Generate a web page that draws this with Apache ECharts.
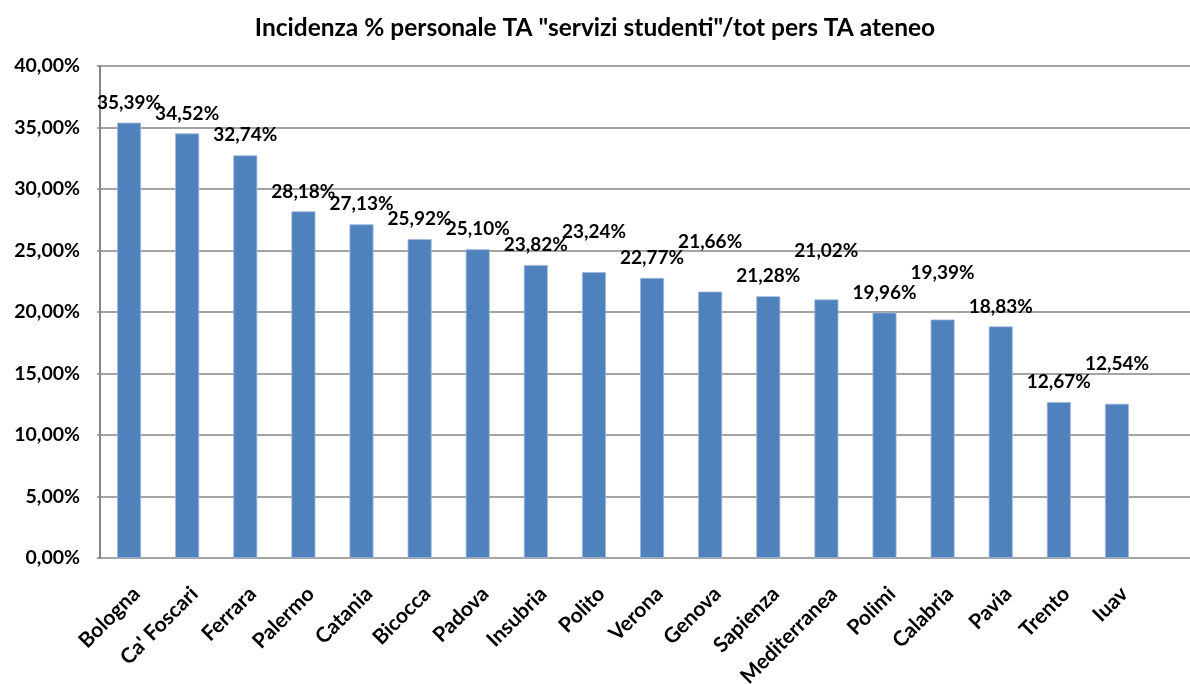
<!DOCTYPE html>
<html>
<head>
<meta charset="utf-8">
<script src="https://cdn.jsdelivr.net/npm/echarts@6/dist/echarts.min.js"></script>
<style>
  html, body { margin: 0; padding: 0; background: #fff; }
  #chart { width: 1190px; height: 684px; }
</style>
</head>
<body>
<div id="chart"></div>
<script>
const categories = ['Bologna', "Ca' Foscari", 'Ferrara', 'Palermo', 'Catania', 'Bicocca',
  'Padova', 'Insubria', 'Polito', 'Verona', 'Genova', 'Sapienza', 'Mediterranea',
  'Polimi', 'Calabria', 'Pavia', 'Trento', 'Iuav'];
const incidenza = [35.39, 34.52, 32.74, 28.18, 27.13, 25.92, 25.10, 23.82, 23.24,
  22.77, 21.66, 21.28, 21.02, 19.96, 19.39, 18.83, 12.67, 12.54];
const yTicks = [0, 5, 10, 15, 20, 25, 30, 35, 40];
// extra lift for labels that Excel pushed higher
const labelLift = [0, 0, 0, 0, 0, 0, 0, 0, 20, 0, 30, 0, 29, 0, 27, 0, 0, 20];

const FONT = 'Lato';
const fmt = (v) => v.toFixed(2).replace('.', ',') + '%';

const chart = echarts.init(document.getElementById('chart'));

const plotTop = 66;
const plotBottom = 684 - 558;

chart.setOption({
  animation: false,
  backgroundColor: '#fff',
  textStyle: { fontFamily: FONT },
  title: {
    text: 'Incidenza % personale TA "servizi studenti"/tot pers TA ateneo',
    left: 'center',
    top: 11,
    textStyle: { fontFamily: FONT, fontWeight: 'bold', fontSize: 24.5, color: '#000' }
  },
  grid: [
    { left: 100, right: 0, top: plotTop, bottom: plotBottom, outerBoundsMode: 'none', containLabel: false },
    { left: 100, right: 44, top: plotTop, bottom: plotBottom, outerBoundsMode: 'none', containLabel: false }
  ],
  xAxis: [
    {
      gridIndex: 0, type: 'value', min: 0, max: 1,
      axisLine: { show: false }, axisTick: { show: false },
      axisLabel: { show: false }, splitLine: { show: false }
    },
    {
      gridIndex: 1, type: 'category', data: categories,
      axisLine: { show: false }, axisTick: { show: false },
      axisLabel: {
        rotate: 45, interval: 0, margin: 25, verticalAlign: 'top',
        fontFamily: FONT, fontWeight: 'bold', fontSize: 21, color: '#000'
      }
    }
  ],
  yAxis: [
    {
      gridIndex: 0, type: 'value', min: yTicks[0], max: yTicks[yTicks.length - 1],
      interval: yTicks[1] - yTicks[0],
      axisLine: { show: true, lineStyle: { color: '#868686', width: 2 } },
      axisTick: { show: true, length: 3, lineStyle: { color: '#868686', width: 1.5 } },
      splitLine: { show: true, lineStyle: { color: '#868686', width: 1.5 } },
      axisLabel: {
        margin: 20, formatter: (v) => fmt(v),
        fontFamily: FONT, fontWeight: 'bold', fontSize: 19.5, color: '#000'
      }
    },
    {
      gridIndex: 1, type: 'value', min: yTicks[0], max: yTicks[yTicks.length - 1],
      show: false
    }
  ],
  series: [
    {
      type: 'bar',
      xAxisIndex: 1,
      yAxisIndex: 1,
      barWidth: 24,
      itemStyle: { color: '#4F81BD', borderColor: '#9fb9dc', borderWidth: 0.8 },
      label: {
        show: true, position: 'top', distance: 10,
        formatter: (p) => fmt(p.value),
        fontFamily: FONT, fontWeight: 'bold', fontSize: 19, lineHeight: 20, color: '#000'
      },
      data: incidenza.map((v, i) => ({
        value: v,
        label: { distance: 10 + labelLift[i] }
      }))
    }
  ]
});
</script>
</body>
</html>
